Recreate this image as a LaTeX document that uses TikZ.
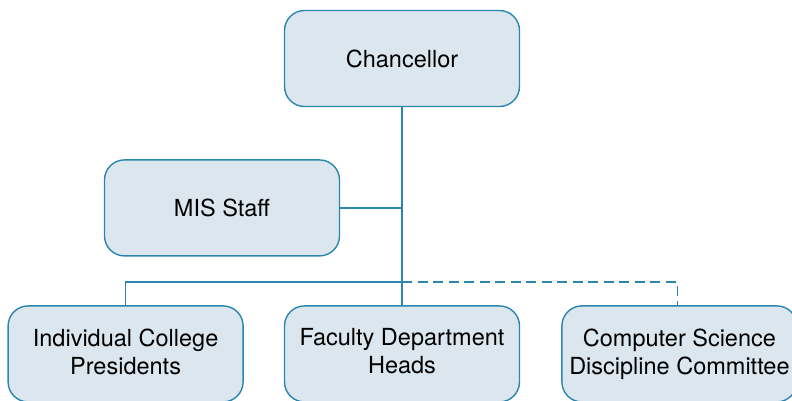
\documentclass[tikz,border=0pt]{standalone}
\usepackage{fontspec}
\setmainfont{TeX Gyre Heros}
\usepackage{xcolor}
\usetikzlibrary{positioning, calc}

\definecolor{orgline}{HTML}{2A86AF}
\definecolor{orgfill}{HTML}{DCE6EE}

\begin{document}
\begin{tikzpicture}[
    x=1pt, y=1pt, node distance=40pt,
    box/.style={rectangle, draw=orgline, fill=orgfill, line width=1.4pt,
                rounded corners=20pt, minimum width=235pt, minimum height=96pt,
                align=center, font=\fontsize{23.5}{28}\selectfont},
    link/.style={draw=orgline, line width=1.6pt}
]
    \useasboundingbox (0,0) rectangle (792,-400);

    \node[box] (chan) at (402,-58.5) {Chancellor};
    \node[box, below=52pt of chan, xshift=-180pt] (mis) {MIS Staff};
    \node[box, below=198pt of chan] (fac)  {Faculty Department\\Heads\vphantom{g}};
    \node[box, left=of fac]        (pres) {Individual College\\Presidents\vphantom{g}};
    \node[box, right=41pt of fac]  (cs)   {Computer Science\\Discipline Committee};

    \coordinate (bus) at ($(fac.north)+(0,23)$);

    \draw[link] (chan) -- (fac);
    \draw[link] (mis.east) -- (mis.east -| chan.south);
    \draw[link] (pres.north) |- (bus);
    \draw[link, dash pattern=on 10pt off 5.5pt] (bus) -| ([xshift=-2pt]cs.north);
\end{tikzpicture}
\end{document}
